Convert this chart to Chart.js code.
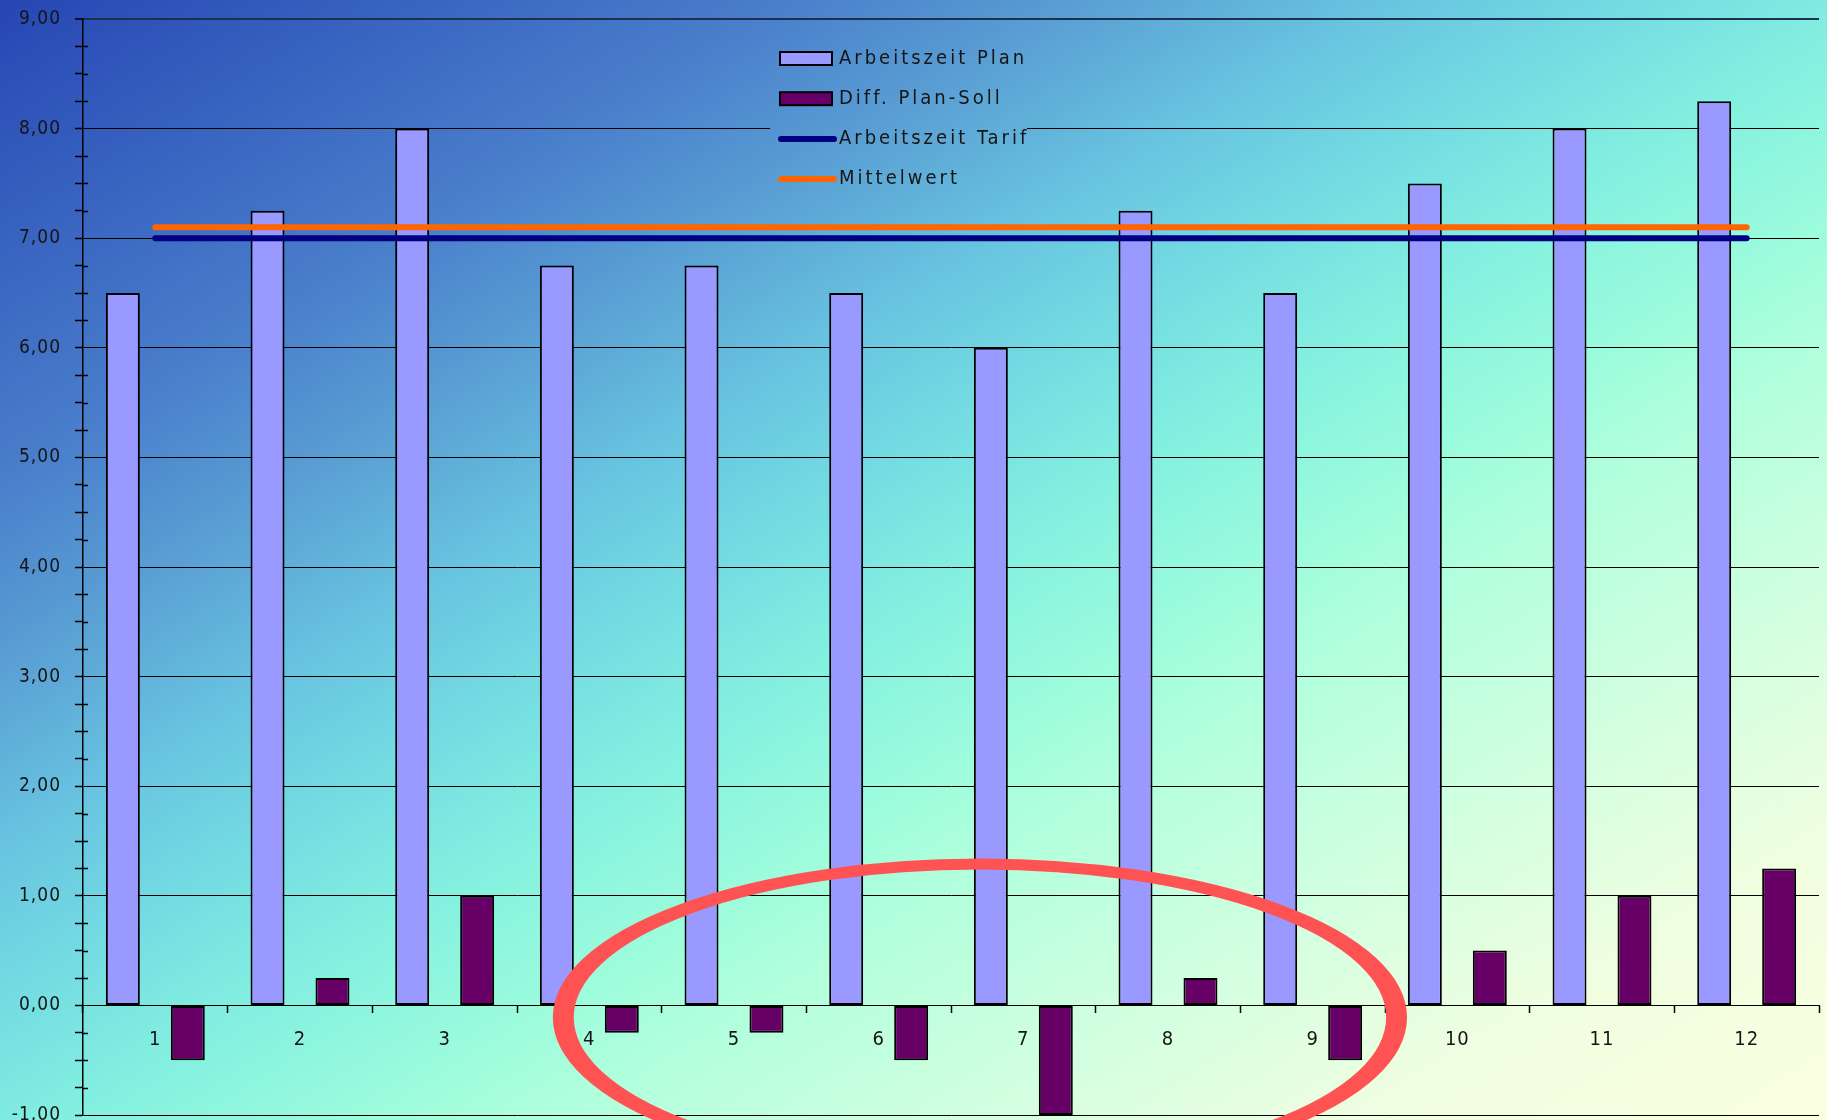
<!DOCTYPE html>
<html>
<head>
<meta charset="utf-8">
<title>Arbeitszeit Plan / Tarif</title>
<script src="https://cdn.jsdelivr.net/npm/chart.js@4.4.1/dist/chart.umd.min.js"></script>
<style>
  html, body { margin: 0; padding: 0; }
  body {
    width: 1827px;
    height: 1120px;
    overflow: hidden;
    background: linear-gradient(to bottom right,
      #2646b4 0%, #4a80cc 22%, #5aa0d4 30%, #68c4e0 38%, #74dce2 45%,
      #84f0e0 52%, #9cfcdc 60%, #b0ffdc 65%, #d0ffe0 76%, #effee0 87%, #fbffe0 100%);
  }
  canvas { display: block; }
</style>
</head>
<body>
<canvas id="chart" width="1827" height="1140"></canvas>
<script>
// categories (days)
const days = ["1", "2", "3", "4", "5", "6", "7", "8", "9", "10", "11", "12"];

// series values (hours)
const planHours = [6.5, 7.25, 8, 6.75, 6.75, 6.5, 6, 7.25, 6.5, 7.5, 8, 8.25];
const diffPlanSoll = [-0.5, 0.25, 1, -0.25, -0.25, -0.5, -1, 0.25, -0.5, 0.5, 1, 1.25];
const tarifHours = [7, 7, 7, 7, 7, 7, 7, 7, 7, 7, 7, 7];
const meanHours = [7.1, 7.1, 7.1, 7.1, 7.1, 7.1, 7.1, 7.1, 7.1, 7.1, 7.1, 7.1];

// y axis range
const yMin = -1;
const yMax = 9;

const FONT = "'Liberation Sans Narrow', 'DejaVu Sans Condensed', 'DejaVu Sans', sans-serif";

// letter spacing like the old office export
const spacingPlugin = {
  id: "spacing",
  beforeDraw(chart) {
    chart.ctx.letterSpacing = "1px";
  }
};

// minor ticks reach a bit into the plot
const minorTicks = {
  id: "minorTicks",
  afterDraw(chart) {
    const y = chart.scales.y;
    const ctx = chart.ctx;
    const left = chart.chartArea.left;
    ctx.save();
    ctx.strokeStyle = "#000";
    ctx.lineWidth = 1.5;
    y.ticks.forEach(t => {
      if (t.value % 1 !== 0) {
        const py = Math.round(y.getPixelForValue(t.value)) + 0.5;
        ctx.beginPath();
        ctx.moveTo(left, py);
        ctx.lineTo(left + 5, py);
        ctx.stroke();
      }
    });
    ctx.restore();
  }
};

// legend box in the plot, hides the grid behind it
const boxLegend = {
  id: "boxLegend",
  beforeDatasetsDraw(chart, args, opts) {
    const c = opts.clear;
    chart.ctx.clearRect(c.x, c.y, c.w, c.h);
  },
  afterDraw(chart, args, opts) {
    const ctx = chart.ctx;
    ctx.save();
    ctx.font = "20px " + FONT;
    ctx.letterSpacing = "3px";
    ctx.textBaseline = "middle";
    chart.data.datasets.forEach((ds, i) => {
      const cy = opts.y + i * opts.rowGap;
      if (ds.type === "bar") {
        ctx.fillStyle = ds.backgroundColor;
        ctx.fillRect(opts.x, cy - opts.boxH / 2, opts.boxW, opts.boxH);
        ctx.strokeStyle = "#000";
        ctx.lineWidth = 2;
        ctx.strokeRect(opts.x, cy - opts.boxH / 2, opts.boxW, opts.boxH);
      } else {
        ctx.strokeStyle = ds.borderColor;
        ctx.lineWidth = ds.borderWidth;
        ctx.lineCap = "round";
        ctx.beginPath();
        ctx.moveTo(opts.x + 1, cy);
        ctx.lineTo(opts.x + opts.boxW + 2, cy);
        ctx.stroke();
      }
      ctx.fillStyle = "#151515";
      ctx.fillText(ds.label, opts.textX, cy);
    });
    ctx.restore();
  }
};

// red ring drawn on top, placed in data units
const ring = {
  id: "ring",
  afterDraw(chart, args, opts) {
    const x = chart.scales.x, y = chart.scales.y;
    const ctx = chart.ctx;
    const cx = x.getPixelForValue(opts.cx);
    const cy = y.getPixelForValue(opts.cy);
    const stepX = x.getPixelForValue(1) - x.getPixelForValue(0);
    const stepY = y.getPixelForValue(0) - y.getPixelForValue(1);
    const rx = opts.rx * stepX;
    const ry = opts.ry * stepY;
    ctx.save();
    ctx.strokeStyle = opts.color;
    ctx.translate(cx, cy);
    ctx.scale(opts.stretch, 1);
    ctx.lineWidth = opts.width;
    ctx.beginPath();
    ctx.ellipse(0, 0, rx / opts.stretch, ry, 0, 0, Math.PI * 2);
    ctx.stroke();
    ctx.restore();
  }
};

new Chart(document.getElementById("chart"), {
  type: "bar",
  data: {
    labels: days,
    datasets: [
      {
        type: "bar",
        label: "Arbeitszeit Plan",
        data: planHours,
        backgroundColor: "#9999ff",
        borderColor: "#000",
        borderWidth: 2,
        borderSkipped: false,
        categoryPercentage: 0.898,
        barPercentage: 0.523,
        order: 1
      },
      {
        type: "bar",
        label: "Diff. Plan-Soll",
        data: diffPlanSoll,
        backgroundColor: "#660066",
        borderColor: "#000",
        borderWidth: 2,
        borderSkipped: false,
        categoryPercentage: 0.898,
        barPercentage: 0.523,
        order: 1
      },
      {
        type: "line",
        label: "Arbeitszeit Tarif",
        data: tarifHours,
        borderColor: "#000080",
        borderWidth: 6,
        borderCapStyle: "round",
        pointRadius: 0,
        fill: false,
        order: 0
      },
      {
        type: "line",
        label: "Mittelwert",
        data: meanHours,
        borderColor: "#ff6600",
        borderWidth: 6,
        borderCapStyle: "round",
        pointRadius: 0,
        fill: false,
        order: 0
      }
    ]
  },
  options: {
    responsive: false,
    animation: false,
    events: [],
    layout: { padding: { top: 19, right: 8, bottom: 25, left: 0 } },
    scales: {
      x: {
        type: "category",
        position: { y: 0 },
        offset: true,
        grid: {
          display: true,
          offset: true,
          drawOnChartArea: false,
          drawTicks: true,
          tickLength: 7,
          tickColor: "#000",
          tickWidth: 1.5
        },
        border: { display: true, color: "#000", width: 1 },
        ticks: {
          color: "#151515",
          font: { family: FONT, size: 20 },
          padding: 15,
          maxRotation: 0
        }
      },
      y: {
        min: yMin,
        max: yMax,
        afterFit(scale) {
          scale.width = 83;
          scale.paddingTop = 0;
          scale.paddingBottom = 0;
        },
        grid: {
          color: c => (c.tick && c.tick.value % 1 === 0)
            ? (c.tick.value === yMax ? "#1c3050" : "#000")
            : "rgba(0,0,0,0)",
          lineWidth: c => (c.tick && c.tick.value === yMax) ? 2 : 1,
          tickColor: "#000",
          tickLength: 8,
          tickWidth: 1.5
        },
        border: { display: true, color: "#000", width: 1.5 },
        ticks: {
          stepSize: 0.25,
          autoSkip: false,
          color: "#151515",
          font: { family: FONT, size: 19 },
          padding: 14,
          callback: v => (v % 1 === 0) ? v.toFixed(2).replace(".", ",") : ""
        }
      }
    },
    plugins: {
      legend: { display: false },
      tooltip: { enabled: false },
      boxLegend: {
        x: 780, y: 58.5, rowGap: 40.2, boxW: 52, boxH: 13, textX: 839,
        clear: { x: 770, y: 32, w: 257, h: 170 }
      },
      ring: { cx: 5.7, cy: -0.11, rx: 2.88, ry: 1.40, stretch: 1.9, width: 11, color: "#ff5252" }
    }
  },
  plugins: [spacingPlugin, minorTicks, boxLegend, ring]
});
</script>
</body>
</html>
